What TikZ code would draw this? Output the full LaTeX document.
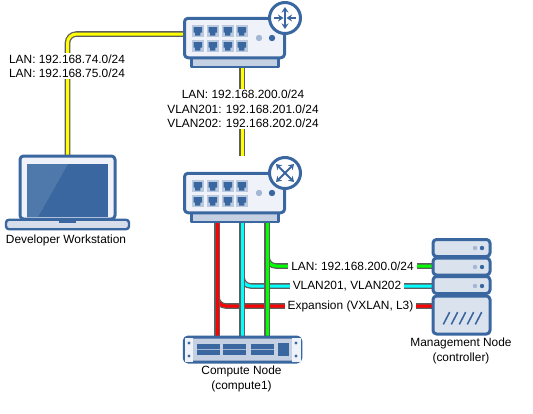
\documentclass[tikz,border=0pt]{standalone}
\usepackage{fontspec}
\setmainfont{Liberation Sans}
\usetikzlibrary{backgrounds, arrows.meta}
\definecolor{iconblue}{HTML}{3A67A0}
\definecolor{iconpale}{HTML}{EFF2F8}
\definecolor{iconmid}{HTML}{C5D0E2}
\definecolor{iconsrv}{HTML}{DAE2EE}
\definecolor{iconport}{HTML}{B9C9DF}
\definecolor{iconled}{HTML}{A3B6D3}
\definecolor{iconglare}{HTML}{5079AB}
\definecolor{cableedge}{HTML}{5E5E5E}
\definecolor{cableyellow}{HTML}{FFFF00}
\definecolor{cablered}{HTML}{FF0000}
\definecolor{cablecyan}{HTML}{00FFFF}
\definecolor{cablegreen}{HTML}{00FF00}
\tikzset{
	devbox/.style={draw=iconblue, line width=3pt, fill=iconpale, rounded corners=3.5pt, outer sep=0pt, inner sep=0pt},
	basebox/.style={draw=iconblue, line width=2.2pt, fill=iconmid, outer sep=0pt, inner sep=0pt},
	srvbox/.style={devbox, fill=iconsrv, minimum width=57pt},
	badge/.style={circle, draw=iconblue, line width=3pt, fill=white, minimum size=31pt, outer sep=0pt, inner sep=0pt},
	cable/.style={draw=cableedge, line width=1.3pt, double=#1, double distance=3pt, rounded corners=9pt},
	lbl/.style={font=\fontsize{11.9}{14.5}\selectfont, align=center, inner sep=1pt, outer sep=0pt},
	lblw/.style={lbl, fill=white, inner xsep=3pt},
	tip/.style={line width=2pt, draw=iconblue, -{Stealth[length=5.5pt,width=7pt]}},
	tiptwo/.style={line width=2pt, draw=iconblue, {Stealth[length=5.5pt,width=7pt]}-{Stealth[length=5.5pt,width=7pt]}},
	netports/.pic={
		\foreach \px in {9,24,39,53}
		\foreach \py in {8,23}{
			\fill[iconport] (\px,\py) rectangle ++(11.5,12);
			\fill[iconblue] (\px+1.5,\py+2) -- ++(8.5,0) -- ++(0,5.5) -- ++(-1.7,0) -- ++(0,3) -- ++(-5.1,0) -- ++(0,-3) -- ++(-1.7,0) -- cycle;
		}
		\fill[iconled] (76,21) circle (3.2pt);
		\fill[iconblue] (89,21) circle (3.2pt);
	},
	srvleds/.pic={
		\fill[iconled] (-3.5,0) circle (2.2pt);
		\fill[iconblue] (3.5,0) circle (2.2pt);
	},
}
\begin{document}
\begin{tikzpicture}[x=1pt, y=-1pt, line join=round, >=stealth]
	\useasboundingbox (0,0) rectangle (533,413);
	% router
	\node[basebox, minimum width=87pt, minimum height=9pt] (routerbase) at (235,62.5) {};
	\node[devbox, minimum width=100pt, minimum height=39.5pt] (router) at (234.5,38) {};
	\pic at (183,17) {netports};
	\node[badge] (routerbadge) at (285,18) {};
	\draw[tiptwo] (285,7) -- (285,29);
	\draw[tip] (274,18) -- (283.5,18);
	\draw[tip] (296,18) -- (286.5,18);
	% switch
	\node[basebox, minimum width=87pt, minimum height=9pt] (switchbase) at (235,217.5) {};
	\node[devbox, minimum width=100pt, minimum height=39.5pt] (switch) at (234.5,193) {};
	\pic at (183,172) {netports};
	\node[badge] (switchbadge) at (285,173) {};
	\draw[tiptwo] (276,164) -- (294,182);
	\draw[tiptwo] (294,164) -- (276,182);
	% laptop
	\node[devbox, minimum width=95pt, minimum height=63pt] (laptop) at (67.5,187.5) {};
	\node[draw=none, fill=iconblue, minimum width=81pt, minimum height=53pt, inner sep=0pt, outer sep=0pt] (screen) at (67.5,190.5) {};
	\fill[iconglare] (screen.north west) -- (68,164) -- (38,217) -- (screen.south west) -- cycle;
	\node[devbox, fill=iconmid!60!iconpale, line width=2.4pt, minimum width=123pt, minimum height=9.5pt, rounded corners=3pt] (laptopbase) at (67.5,224.5) {};
	\fill[iconblue] (59,219) rectangle (76,223);
	% compute node
	\node[devbox, fill=iconmid, minimum width=116.5pt, minimum height=25pt, rounded corners=4pt] (compute) at (242.5,349.5) {};
	\foreach \sx/\ex in {184.5/193, 292/300.5}
	\fill[iconpale] (\sx,338) rectangle (\ex,361.5);
	\foreach \sx in {189,296}
	\foreach \sy in {343,356}
	\fill[iconblue] (\sx,\sy) circle (1.7pt);
	\foreach \bx in {197,223,251}{
		\fill[iconblue] (\bx,344) rectangle ++(23,11);
		\fill[iconled] (\bx,349) rectangle ++(23,1.2);
	}
	\fill[iconblue] (278,343) rectangle (289,356);
	% management node
	\node[srvbox, minimum height=17pt] (srvone) at (461.5,248) {};
	\node[srvbox, minimum height=17pt] (srvtwo) at (461.5,266.5) {};
	\node[srvbox, minimum height=17pt] (srvthree) at (461.5,285) {};
	\node[srvbox, minimum height=38pt] (srvfour) at (461.5,315) {};
	\pic at (478.5,248) {srvleds};
	\pic at (478.5,267) {srvleds};
	\pic at (478.5,286) {srvleds};
	\foreach \sx in {0,1,2,3,4}
	\draw[iconblue, line width=1.6pt, line cap=round] (443.5+\sx*8,324) -- (449.5+\sx*8,312.5);
	% cable ends
	\coordinate (routerleft) at (184,34);
	\coordinate (routerout) at (242,67);
	\coordinate (yellowend) at (242,156);
	\coordinate (redtop) at (217,222);
	\coordinate (cyantop) at (242,222);
	\coordinate (greentop) at (267,222);
	\coordinate (redbot) at (217,337);
	\coordinate (cyanbot) at (242,337);
	\coordinate (greenbot) at (267,337);
	\coordinate (srvred) at (432,306);
	\coordinate (srvcyan) at (432,286);
	\coordinate (srvgreen) at (432,266);
	\begin{scope}[on background layer]
		\draw[cable=cableyellow] (laptop.north) |- (routerleft);
		\draw[cable=cableyellow] (routerout) -- (yellowend);
		\draw[cable=cablered] (redtop) |- (srvred);
		\draw[cable=cablered] (redtop) -- (redbot);
		\draw[cable=cablecyan] (cyantop) |- (srvcyan);
		\draw[cable=cablecyan] (cyantop) -- (cyanbot);
		\draw[cable=cablegreen] (greentop) |- (srvgreen);
		\draw[cable=cablegreen] (greentop) -- (greenbot);
	\end{scope}
	% labels
	\node[lblw] (lblleft) at (67,66) {LAN: 192.168.74.0/24\\LAN: 192.168.75.0/24};
	\node[lblw] (lblmid) at (243,109) {LAN: 192.168.200.0/24\\VLAN201: 192.168.201.0/24\\VLAN202: 192.168.202.0/24};
	\node[lblw] (lblgreen) at (352.5,266) {LAN: 192.168.200.0/24};
	\node[lblw] (lblcyan) at (347,286) {VLAN201, VLAN202};
	\node[lblw] (lblred) at (350.5,306) {Expansion (VXLAN, L3)};
	\node[lbl] (lbllaptop) at (66,240) {Developer Workstation};
	\node[lbl] (lblcompute) at (241.5,379) {Compute Node\\(compute1)};
	\node[lbl] (lblsrv) at (461,351) {Management Node\\(controller)};
\end{tikzpicture}
\end{document}
